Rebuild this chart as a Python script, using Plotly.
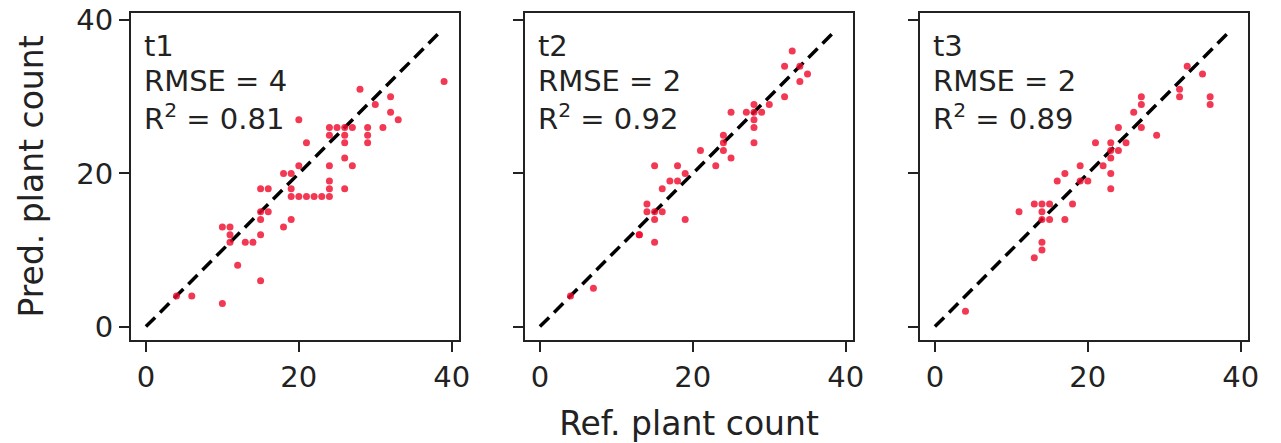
import plotly.graph_objects as go

# ---- data ----
panel_names = ["t1", "t2", "t3"]
rmse_values = ["4", "2", "2"]
r2_values = ["0.81", "0.92", "0.89"]

t1_ref = [39, 28, 32, 30, 32, 33, 31, 20, 21,
          24, 25, 26, 27, 24, 26, 29, 29, 29, 26,
          26, 27, 24, 20, 18, 19, 24, 24, 26,
          19, 20, 21, 22, 23, 24, 19, 15, 16,
          16, 15, 15, 19, 18, 10, 11, 11, 11,
          13, 14, 15, 12, 15, 6, 4, 10]
t1_pred = [32, 31, 30, 29, 28, 27, 26, 27, 24,
           26, 26, 26, 26, 25, 25, 26, 25, 24, 24,
           22, 21, 21, 21, 20, 20, 19, 18, 18,
           17, 17, 17, 17, 17, 17, 18, 18, 18,
           15, 15, 14, 14, 13, 13, 13, 12, 11,
           11, 11, 12, 8, 6, 4, 4, 3]

t2_ref = [33, 32, 34, 35, 34, 32, 30, 29, 28, 27, 28, 28, 28, 25,
          28, 24, 24, 24, 21, 23, 25, 15, 18, 17, 16, 19, 18,
          14, 14, 15, 16, 15, 19, 13, 13, 15, 4, 7]
t2_pred = [36, 34, 34, 33, 32, 30, 29, 28, 29, 28, 28, 27, 26, 28,
           24, 25, 24, 23, 23, 21, 22, 21, 21, 19, 18, 20, 19,
           16, 15, 15, 15, 14, 14, 12, 12, 11, 4, 5]

t3_ref = [33, 35, 32, 32, 36, 36, 27, 27, 26, 27, 24, 29, 25, 21,
          23, 23, 24, 23, 22, 19, 23, 17, 16, 20, 19, 23, 18, 17,
          13, 14, 15, 11, 14, 15, 14, 14, 14, 13, 4]
t3_pred = [34, 33, 31, 30, 30, 29, 30, 29, 28, 26, 26, 25, 24, 24,
           24, 23, 23, 22, 21, 21, 20, 20, 19, 19, 19, 18, 16, 14,
           16, 16, 16, 15, 15, 14, 14, 11, 10, 9, 2]

ref_values = [t1_ref, t2_ref, t3_ref]
pred_values = [t1_pred, t2_pred, t3_pred]

line_ends = [0, 38.5]          # 1:1 line
x_range = [-1.95, 40.95]
y_range = [-1.75, 40.95]
tick_values = [0, 20, 40]
tick_labels = ["0", "20", "40"]

# ---- figure (page body adds an 8px offset) ----
OFF = 8
W, H = 1281 - OFF, 443 - OFF
ml, mr, mt, mb = 131 - OFF, 33, 13 - OFF, 103
plot_w = W - ml - mr
px = lambda a, b: [(a - OFF - ml) / plot_w, (b - OFF - ml) / plot_w]
domains = [px(131, 459), px(525, 853), px(920, 1248)]

fig = go.Figure()
font_family = "DejaVu Sans"
text_color = "#222222"
fs = 29
title_fs = 33

line_y = [0.898, 0.792, 0.683]

for i in range(3):
    xa = "x" if i == 0 else f"x{i+1}"
    ya = "y" if i == 0 else f"y{i+1}"
    fig.add_trace(go.Scatter(
        x=line_ends, y=line_ends, mode="lines",
        line=dict(color="black", width=3.5, dash="13px,7px"),
        xaxis=xa, yaxis=ya, showlegend=False, hoverinfo="skip"))
    fig.add_trace(go.Scatter(
        x=ref_values[i], y=pred_values[i], mode="markers",
        marker=dict(color="rgba(240,12,45,0.82)", size=7, line=dict(width=0)),
        xaxis=xa, yaxis=ya, showlegend=False))

    axis_common = dict(
        tickvals=tick_values, ticktext=tick_labels,
        ticks="outside", ticklen=10, tickwidth=2, tickcolor=text_color,
        showline=True, linewidth=2, linecolor=text_color, mirror=True,
        showgrid=False, zeroline=False, automargin=False,
        ticklabeloverflow="allow",
        tickfont=dict(family=font_family, size=fs, color=text_color),
    )
    xkey = "xaxis" if i == 0 else f"xaxis{i+1}"
    ykey = "yaxis" if i == 0 else f"yaxis{i+1}"
    xdict = dict(axis_common, range=x_range, domain=domains[i], anchor=ya)
    ydict = dict(axis_common, range=y_range, domain=[0, 1], anchor=xa)
    if i > 0:
        ydict["showticklabels"] = False
    if i == 1:
        xdict["title"] = dict(text="Ref. plant count", standoff=22,
                              font=dict(family=font_family, size=title_fs, color=text_color))
    if i == 0:
        ydict["title"] = dict(text="Pred. plant count", standoff=23,
                              font=dict(family=font_family, size=title_fs, color=text_color))
    fig.update_layout({xkey: xdict, ykey: ydict})

    texts = [panel_names[i], f"RMSE = {rmse_values[i]}", f"R<sup>2</sup> = {r2_values[i]}"]
    for t, yy in zip(texts, line_y):
        fig.add_annotation(
            xref=f"{xa} domain", yref=f"{ya} domain",
            x=0.035, y=yy, xanchor="left", yanchor="middle",
            align="left", showarrow=False, text=t,
            font=dict(family=font_family, size=fs, color=text_color),
        )

fig.update_layout(
    width=W, height=H,
    margin=dict(l=ml, r=mr, t=mt, b=mb, autoexpand=False),
    paper_bgcolor="white", plot_bgcolor="white",
    font=dict(family=font_family, color=text_color),
)

fig.write_html("out.html")
